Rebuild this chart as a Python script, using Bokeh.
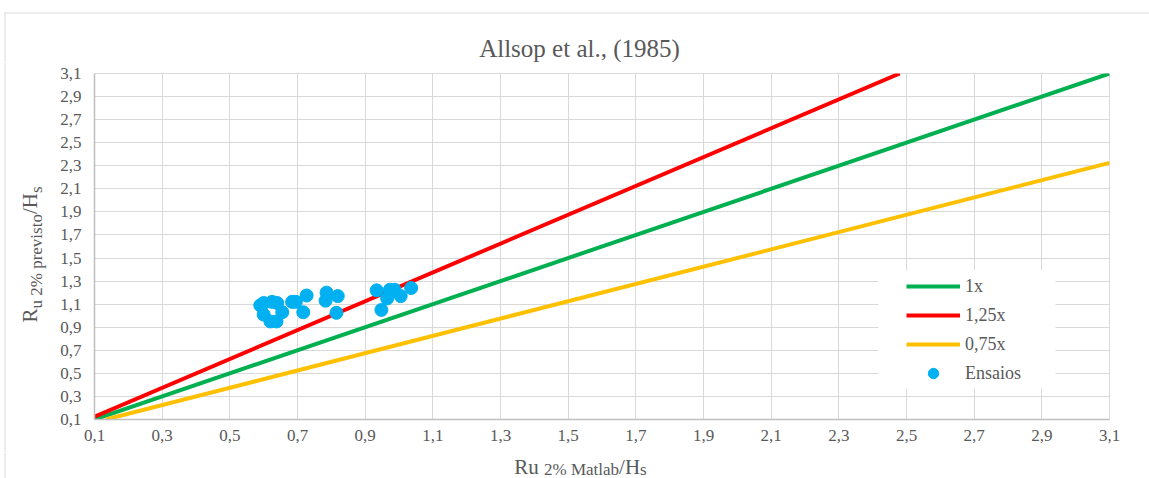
import math
from bokeh.plotting import figure
from bokeh.layouts import column, row
from bokeh.models import (Range1d, FixedTicker, Label, BoxAnnotation, Legend, LegendItem)
from bokeh.embed import file_html
from bokeh.resources import INLINE

# ---------------- data ----------------
ensaios_x = [0.590, 0.600, 0.625, 0.640, 0.600, 0.620, 0.638, 0.655, 0.684, 0.695,
             0.727, 0.717, 0.786, 0.783, 0.819, 0.815, 0.934, 0.948, 0.965, 0.973,
             0.987, 1.005, 1.036]
ensaios_y = [1.090, 1.110, 1.120, 1.110, 1.010, 0.950, 0.950, 1.030, 1.120, 1.120,
             1.175, 1.030, 1.200, 1.130, 1.170, 1.025, 1.220, 1.050, 1.150, 1.225,
             1.225, 1.170, 1.240]

linha_1x_x = [0.1, 3.1]
linha_1x_y = [0.1, 3.1]
linha_125x_x = [0.1, 2.48]
linha_125x_y = [0.125, 3.1]
linha_075x_x = [0.1333, 3.1]
linha_075x_y = [0.1, 2.325]

tick_values = [0.1, 0.3, 0.5, 0.7, 0.9, 1.1, 1.3, 1.5, 1.7, 1.9, 2.1, 2.3, 2.5, 2.7, 2.9, 3.1]
tick_labels = ["0,1", "0,3", "0,5", "0,7", "0,9", "1,1", "1,3", "1,5", "1,7", "1,9",
               "2,1", "2,3", "2,5", "2,7", "2,9", "3,1"]

legend_labels = ["1x", "1,25x", "0,75x", "Ensaios"]
title_text = "Allsop et al., (1985)"
xlabel_pieces = ["Ru ", "2% Matlab", "/H", "s"]
ylabel_pieces = ["R", "u 2% previsto", "/H", "s"]

# ---------------- style ----------------
FONT = "Liberation Serif"
TXT = "#595959"
GRID = "#D9D9D9"
PAGE_W = 1149
TOP_H = 62
XLAB_H = 26
MID_H = 478 - TOP_H - XLAB_H


def blank(w, h):
    f = figure(width=w, height=h, output_backend="svg", toolbar_location=None,
               title=None, x_axis_type=None, y_axis_type=None,
               x_range=Range1d(0, w), y_range=Range1d(h, 0),
               min_border=0, min_border_left=0, min_border_right=0,
               min_border_top=0, min_border_bottom=0)
    f.frame_align = False
    f.outline_line_color = None
    f.background_fill_color = "white"
    f.border_fill_color = "white"
    f.grid.visible = False
    return f


W = {"R": .667, "u": .5, " ": .25, "2": .5, "%": .833, "p": .5, "r": .333, "e": .444,
     "v": .5, "i": .278, "s": .389, "t": .278, "o": .5, "/": .278, "H": .722,
     "M": .889, "a": .444, "l": .278, "b": .5}


def tw(s, size):
    return sum(W[c] for c in s) * size


BIG, SUB = 21, 17

# ---------------- title strip ----------------
top = blank(PAGE_W, TOP_H)
top.segment(x0=[4, 4.5], y0=[12.5, 12], x1=[PAGE_W, 4.5], y1=[12.5, TOP_H],
            line_color=GRID, line_width=1)
top.add_layout(Label(x=579, y=48, text=title_text, text_font=FONT,
                     text_font_size="25px", text_color=TXT,
                     text_align="center", text_baseline="middle"))

# ---------------- y label strip ----------------
ylab = blank(50, MID_H)
ylab.segment(x0=[4.5], y0=[0], x1=[4.5], y1=[MID_H], line_color=GRID, line_width=1)
ysizes = [BIG, SUB, BIG, SUB]
yshift = [0, 7, 0, 7]
cy = 322 - TOP_H
for s, f, dx in zip(ylabel_pieces, ysizes, yshift):
    ylab.add_layout(Label(x=29 + dx, y=cy, text=s, angle=math.pi / 2,
                          text_font=FONT, text_font_size=f"{f}px", text_color=TXT,
                          text_align="left", text_baseline="alphabetic"))
    cy -= tw(s, f)

# ---------------- main chart ----------------
p = figure(width=PAGE_W - 50, height=MID_H, output_backend="svg", toolbar_location=None,
           title=None, x_range=Range1d(0.1, 3.1), y_range=Range1d(0.1, 3.1),
           min_border_left=44, min_border_right=40, min_border_top=73 - TOP_H,
           min_border_bottom=MID_H - 346 - (73 - TOP_H))
p.frame_align = False
p.background_fill_color = "white"
p.border_fill_color = "white"
p.outline_line_color = GRID

overrides = dict(zip(tick_values, tick_labels))
for ax in (p.xaxis[0], p.yaxis[0]):
    ax.ticker = FixedTicker(ticks=tick_values)
    ax.major_label_overrides = overrides
    ax.major_tick_line_color = None
    ax.minor_tick_line_color = None
    ax.major_tick_out = 0
    ax.major_tick_in = 0
    ax.axis_line_color = "#BFBFBF"
    ax.axis_line_width = 1.5
    ax.major_label_text_font = FONT
    ax.major_label_text_font_size = "17px"
    ax.major_label_text_color = TXT
p.xaxis[0].major_label_standoff = 10
p.yaxis[0].major_label_standoff = 13

for g in (p.xgrid[0], p.ygrid[0]):
    g.ticker = FixedTicker(ticks=tick_values)
    g.grid_line_color = GRID
    g.grid_line_width = 1

# legend background
p.add_layout(BoxAnnotation(left=784, right=961, top=149, bottom=31,
                           left_units="screen", right_units="screen",
                           top_units="screen", bottom_units="screen",
                           fill_color="white", fill_alpha=1.0, line_color=None,
                           level="underlay"))

r1 = p.line(linha_1x_x, linha_1x_y, line_color="#00B050", line_width=4)
r2 = p.line(linha_125x_x, linha_125x_y, line_color="#FF0000", line_width=4)
r3 = p.line(linha_075x_x, linha_075x_y, line_color="#FFC000", line_width=4)
r4 = p.scatter(ensaios_x, ensaios_y, size=13, fill_color="#00B0F0", line_color="#00B0F0")

legend = Legend(items=[LegendItem(label=legend_labels[i], renderers=[r])
                       for i, r in enumerate([r1, r2, r3, r4])],
                location=(812, 33), padding=0, spacing=3,
                glyph_width=54, glyph_height=26, label_standoff=5,
                label_text_font=FONT, label_text_font_size="18px",
                label_text_color=TXT, border_line_color=None,
                background_fill_alpha=0)
p.add_layout(legend)

# ---------------- x label strip ----------------
xlab = blank(PAGE_W, XLAB_H)
xlab.segment(x0=[4.5], y0=[0], x1=[4.5], y1=[XLAB_H], line_color=GRID, line_width=1)
xsizes = [BIG, SUB, BIG, SUB]
xshift = [0, 3, 0, 3]
total = sum(tw(s, f) for s, f in zip(xlabel_pieces, xsizes))
cx = 580 - total / 2
for s, f, dy in zip(xlabel_pieces, xsizes, xshift):
    xlab.add_layout(Label(x=cx, y=14 + dy, text=s, text_font=FONT,
                          text_font_size=f"{f}px", text_color=TXT,
                          text_align="left", text_baseline="alphabetic"))
    cx += tw(s, f)

root = column(top, row(ylab, p, spacing=0), xlab, spacing=0)
open("out.html", "w").write(file_html(root, INLINE))
